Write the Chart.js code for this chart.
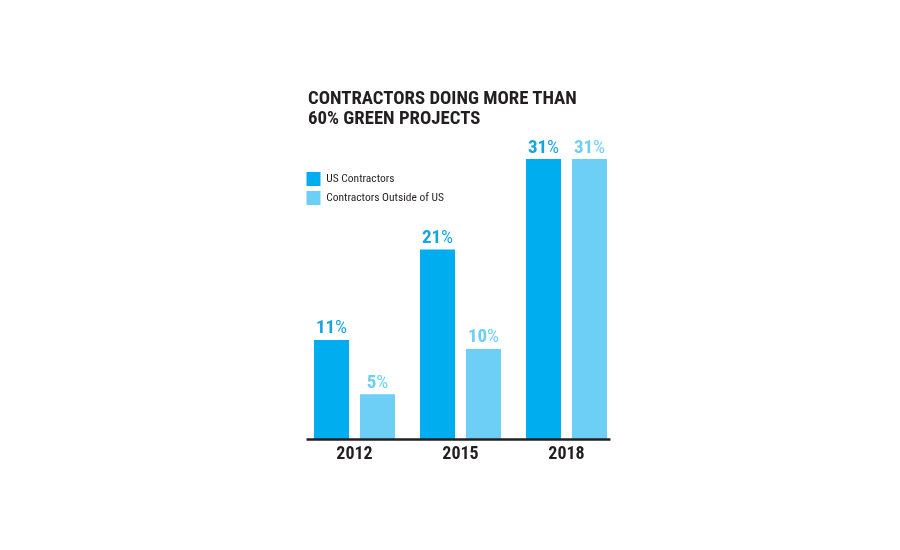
<!DOCTYPE html>
<html>
<head>
<meta charset="utf-8">
<script src="https://cdn.jsdelivr.net/npm/chart.js@4.4.0/dist/chart.umd.min.js"></script>
<style>
  html, body { margin: 0; padding: 0; background: #fff; }
  #wrap { position: relative; width: 900px; height: 550px; }
  #title {
    position: absolute; left: 308px; top: 88px;
    font-family: "Roboto Condensed", "Liberation Sans Narrow", "Arial Narrow", sans-serif;
    font-weight: bold; font-size: 18.8px; line-height: 20px; color: #231F20;
  }
</style>
</head>
<body>
<div id="wrap">
  <canvas id="chart" width="900" height="550"></canvas>
  <div id="title">CONTRACTORS DOING MORE THAN<br>60% GREEN PROJECTS</div>
</div>
<script>
const years = ['2012', '2015', '2018'];
const usContractors = [11, 21, 31];
const outsideUs = [5, 10, 31];
const seriesNames = ['US Contractors', 'Contractors Outside of US'];

const FONT = '"Roboto Condensed", "Liberation Sans Narrow", "Arial Narrow", sans-serif';
const DARK = '#00AEEF';
const LIGHT = '#6DCFF6';
const labelColors = ['#14A6E1', '#6DCFF6'];

// percent labels above every bar: number bold, % sign regular
const valueLabels = {
  id: 'valueLabels',
  afterDatasetsDraw(chart) {
    const ctx = chart.ctx;
    ctx.save();
    ctx.textBaseline = 'alphabetic';
    ctx.textAlign = 'left';
    chart.data.datasets.forEach((ds, i) => {
      chart.getDatasetMeta(i).data.forEach((bar, j) => {
        const num = String(ds.data[j]);
        ctx.font = 'bold 19px ' + FONT;
        const wNum = ctx.measureText(num).width;
        ctx.font = '19px ' + FONT;
        const wPct = ctx.measureText('%').width;
        const x0 = bar.x - (wNum + wPct) / 2;
        const y = bar.y - 6.5;
        ctx.fillStyle = labelColors[i];
        ctx.font = 'bold 19px ' + FONT;
        ctx.fillText(num, x0, y);
        ctx.font = '19px ' + FONT;
        ctx.fillText('%', x0 + wNum, y);
      });
    });
    ctx.restore();
  }
};

// black base line under the bars
const baseLine = {
  id: 'baseLine',
  afterDatasetsDraw(chart) {
    const ctx = chart.ctx;
    const area = chart.chartArea;
    const y0 = chart.scales.y.getPixelForValue(0);
    ctx.save();
    ctx.strokeStyle = '#231F20';
    ctx.lineWidth = 2.5;
    ctx.beginPath();
    ctx.moveTo(area.left + 5, y0);
    ctx.lineTo(area.right - 9, y0);
    ctx.stroke();
    ctx.restore();
  }
};

const ctx = document.getElementById('chart').getContext('2d');
new Chart(ctx, {
  type: 'bar',
  data: {
    labels: years,
    datasets: [
      {
        label: seriesNames[0],
        data: usContractors,
        backgroundColor: DARK,
        borderWidth: 0,
        categoryPercentage: 0.868,
        barPercentage: 0.761
      },
      {
        label: seriesNames[1],
        data: outsideUs,
        backgroundColor: LIGHT,
        borderWidth: 0,
        categoryPercentage: 0.868,
        barPercentage: 0.761
      }
    ]
  },
  options: {
    responsive: false,
    animation: false,
    layout: {
      padding: { left: 301.5, right: 280.5, top: 132, bottom: 81 }
    },
    plugins: {
      tooltip: { enabled: false },
      legend: {
        position: 'chartArea',
        align: 'start',
        title: {
          display: true,
          text: '',
          font: { size: 10 },
          padding: { top: 0, bottom: 155 }
        },
        labels: {
          boxWidth: 14,
          boxHeight: 14,
          padding: 5,
          color: '#231F20',
          font: { family: FONT, size: 11.5 }
        }
      }
    },
    scales: {
      x: {
        grid: { display: false, drawTicks: false },
        border: { display: false },
        ticks: {
          color: '#231F20',
          padding: 4,
          font: { family: FONT, size: 18, weight: 'bold' }
        }
      },
      y: {
        display: false,
        min: 0,
        max: 34
      }
    }
  },
  plugins: [baseLine, valueLabels]
});
</script>
</body>
</html>
